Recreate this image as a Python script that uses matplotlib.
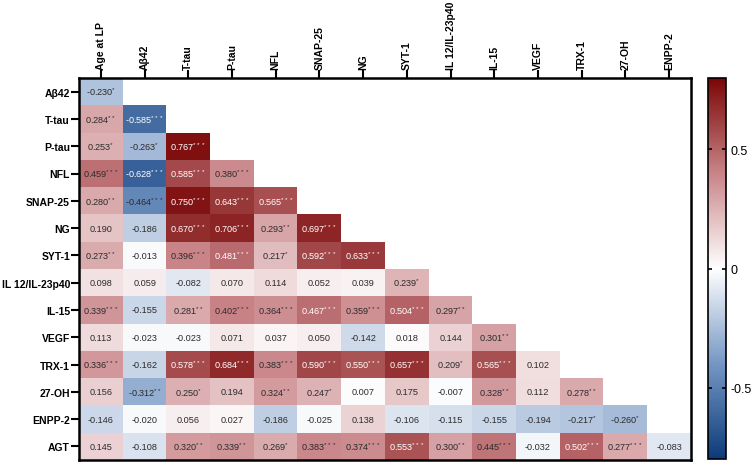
import numpy as np
import matplotlib
matplotlib.use("Agg")
import matplotlib.pyplot as plt
from matplotlib.colors import LinearSegmentedColormap

plt.rcParams['font.family'] = ['Liberation Sans', 'DejaVu Sans']
plt.rcParams['mathtext.fontset'] = 'custom'
plt.rcParams['mathtext.rm'] = 'Liberation Sans'
plt.rcParams['mathtext.default'] = 'regular'

# column / row labels
col_labels = ['Age at LP', 'Aβ42', 'T-tau', 'P-tau', 'NFL', 'SNAP-25', 'NG', 'SYT-1',
              'IL 12/IL-23p40', 'IL-15', 'VEGF', 'TRX-1', '27-OH', 'ENPP-2']
row_labels = ['Aβ42', 'T-tau', 'P-tau', 'NFL', 'SNAP-25', 'NG', 'SYT-1',
              'IL 12/IL-23p40', 'IL-15', 'VEGF', 'TRX-1', '27-OH', 'ENPP-2', 'AGT']

# lower triangle correlation values (row by row)
r_abeta = [-0.230]
r_ttau = [0.284, -0.585]
r_ptau = [0.253, -0.263, 0.767]
r_nfl = [0.459, -0.628, 0.585, 0.380]
r_snap = [0.280, -0.464, 0.750, 0.643, 0.565]
r_ng = [0.190, -0.186, 0.670, 0.706, 0.293, 0.697]
r_syt = [0.273, -0.013, 0.396, 0.481, 0.217, 0.592, 0.633]
r_il12 = [0.098, 0.059, -0.082, 0.070, 0.114, 0.052, 0.039, 0.239]
r_il15 = [0.339, -0.155, 0.281, 0.402, 0.364, 0.467, 0.359, 0.504, 0.297]
r_vegf = [0.113, -0.023, -0.023, 0.071, 0.037, 0.050, -0.142, 0.018, 0.144, 0.301]
r_trx = [0.336, -0.162, 0.578, 0.684, 0.383, 0.590, 0.550, 0.657, 0.209, 0.565, 0.102]
r_27oh = [0.156, -0.312, 0.250, 0.194, 0.324, 0.247, 0.007, 0.175, -0.007, 0.328, 0.112, 0.278]
r_enpp = [-0.146, -0.020, 0.056, 0.027, -0.186, -0.025, 0.138, -0.106, -0.115, -0.155, -0.194, -0.217, -0.260]
r_agt = [0.145, -0.108, 0.320, 0.339, 0.269, 0.383, 0.374, 0.553, 0.300, 0.445, -0.032, 0.502, 0.277, -0.083]

# significance stars
s_abeta = ['*']
s_ttau = ['**', '***']
s_ptau = ['*', '*', '***']
s_nfl = ['***', '***', '***', '***']
s_snap = ['**', '***', '***', '***', '***']
s_ng = ['', '', '***', '***', '**', '***']
s_syt = ['**', '', '***', '***', '*', '***', '***']
s_il12 = ['', '', '', '', '', '', '', '*']
s_il15 = ['***', '', '**', '***', '***', '***', '***', '***', '**']
s_vegf = ['', '', '', '', '', '', '', '', '', '**']
s_trx = ['***', '', '***', '***', '***', '***', '***', '***', '*', '***', '']
s_27oh = ['', '**', '*', '', '**', '*', '', '', '', '**', '', '**']
s_enpp = ['', '', '', '', '', '', '', '', '', '', '', '*', '*']
s_agt = ['', '', '**', '**', '*', '***', '***', '***', '**', '***', '', '***', '***', '']

rows = [r_abeta, r_ttau, r_ptau, r_nfl, r_snap, r_ng, r_syt, r_il12, r_il15,
        r_vegf, r_trx, r_27oh, r_enpp, r_agt]
stars = [s_abeta, s_ttau, s_ptau, s_nfl, s_snap, s_ng, s_syt, s_il12, s_il15,
         s_vegf, s_trx, s_27oh, s_enpp, s_agt]

n = len(row_labels)
mat = np.full((n, len(col_labels)), np.nan)
for i, r in enumerate(rows):
    mat[i, :len(r)] = r

cmap = LinearSegmentedColormap.from_list('rb', [
    (0.0, '#0c3b7a'), (0.25, '#7597c4'), (0.5, '#ffffff'),
    (0.75, '#c98488'), (1.0, '#7a0606')])
cmap.set_bad('white')

fig = plt.figure(figsize=(7.52, 4.64), dpi=100)
ax = fig.add_axes([79/752, 1-461/464, (691-79)/752, (461-79)/464])
cax = fig.add_axes([708/752, 1-460/464, 18/752, (460-79)/464])

im = ax.imshow(np.ma.masked_invalid(mat), cmap=cmap, vmin=-0.8, vmax=0.8,
               aspect='auto', interpolation='nearest')

for i, r in enumerate(rows):
    for j, v in enumerate(r):
        st = stars[i][j]
        txt = f"{v:.3f}" + (f"$^{{{st}}}$" if st else "")
        color = 'white' if abs(v) > 0.465 else '#2b2b2b'
        ax.text(j, i, txt, ha='center', va='center', fontsize=6.6, color=color)

ax.xaxis.tick_top()
ax.set_xticks(range(len(col_labels)))
ax.set_xticklabels(col_labels, rotation=90, fontsize=7.5, fontweight='bold')
ax.set_yticks(range(n))
ax.set_yticklabels(row_labels, fontsize=7.5, fontweight='bold')
ax.tick_params(axis='both', length=5.5, width=1.5, pad=1)
for sp in ax.spines.values():
    sp.set_linewidth(1.8)

cb = fig.colorbar(im, cax=cax, ticks=[-0.5, 0, 0.5])
cb.ax.set_yticklabels(['-0.5', '0', '0.5'])
cb.ax.tick_params(direction='in', left=True, right=True, length=3, width=1.2,
                  labelsize=9)
cb.outline.set_linewidth(1.2)

fig.savefig('out.png', dpi=100)
